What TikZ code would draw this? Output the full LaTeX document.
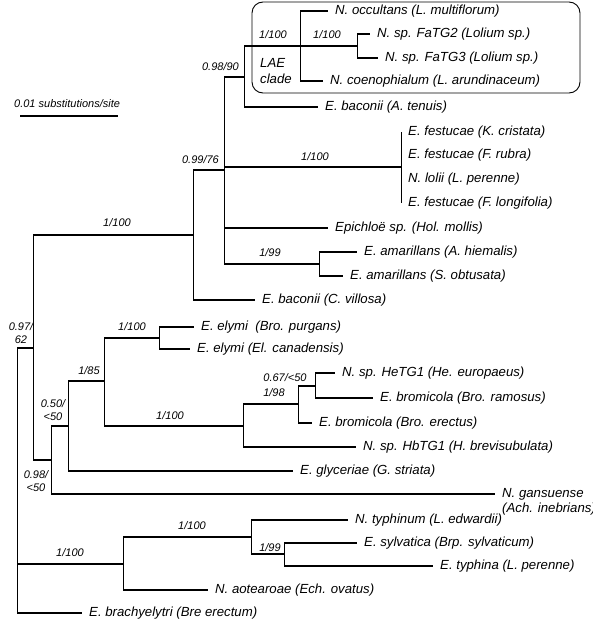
\documentclass[tikz,border=0pt]{standalone}
\usepackage{fontspec}
\setmainfont{Liberation Sans}
\usetikzlibrary{positioning}

\newcommand{\taxfont}{\fontsize{13.2}{15}\selectfont\itshape}
\newcommand{\bsfont}{\fontsize{11}{12.5}\selectfont\itshape}

\begin{document}
\begin{tikzpicture}[x=1pt, y=-1pt,
    hbr/.style={line width=1.8pt},
    vbr/.style={line width=0.9pt},
    taxon/.style={anchor=west, font=\taxfont, inner sep=1pt, xshift=6pt},
    supp/.style={font=\bsfont, inner sep=0pt, align=center}]
  \useasboundingbox (0,0) rectangle (593,621);

  % tips (end of terminal branches)
  \coordinate (tOcc) at (328,11);  \coordinate (tFa2) at (370,34);
  \coordinate (tFa3) at (378,58);  \coordinate (tCoe) at (323,81);
  \coordinate (tBacA) at (318,107);
  \coordinate (tKcr) at (401,132); \coordinate (tFru) at (401,155);
  \coordinate (tLol) at (401,179); \coordinate (tFlo) at (401,203);
  \coordinate (tHol) at (328,228);
  \coordinate (tAhi) at (357,252); \coordinate (tSob) at (343,276);
  \coordinate (tBacC) at (255,300);
  \coordinate (tBpu) at (194,327); \coordinate (tEca) at (190,349);
  \coordinate (tHe) at (335,373);  \coordinate (tBra) at (373,398);
  \coordinate (tBer) at (312,423); \coordinate (tHb) at (356,447);
  \coordinate (tGly) at (293,471); \coordinate (tGan) at (495,494);
  \coordinate (tTyn) at (348,520); \coordinate (tSyl) at (357,543);
  \coordinate (tTya) at (433,566); \coordinate (tAot) at (208,590);
  \coordinate (tBrc) at (82,613);

  % internal nodes
  \coordinate (nFaTG) at (357,46);  \coordinate (nLAE) at (300,46);
  \coordinate (n0890) at (244,77);  \coordinate (nFes) at (401,167);
  \coordinate (nAma) at (319,264);  \coordinate (n0976) at (224,170);
  \coordinate (nEpi) at (193,235);
  \coordinate (nEly) at (159,338);  \coordinate (nHe) at (315,386);
  \coordinate (n198) at (298,404);  \coordinate (nBro) at (243,426);
  \coordinate (n185) at (104,381);  \coordinate (n050) at (68,426);
  \coordinate (n098) at (51,460);   \coordinate (n097) at (33,348);
  \coordinate (n199) at (284,554);  \coordinate (nTyp) at (251,537);
  \coordinate (nTy100) at (123,564); \coordinate (nRoot) at (17,348);

  % branches
  \draw[vbr] (nFaTG |- tFa2) -- (nFaTG |- tFa3);
  \foreach \c in {tFa2,tFa3} \draw[hbr] (nFaTG |- \c) -- (\c);
  \draw[vbr] (nLAE |- tOcc) -- (nLAE |- tCoe);
  \foreach \c in {tOcc,nFaTG,tCoe} \draw[hbr] (nLAE |- \c) -- (\c);
  \draw[vbr] (n0890 |- nLAE) -- (n0890 |- tBacA);
  \foreach \c in {nLAE,tBacA} \draw[hbr] (n0890 |- \c) -- (\c);
  \draw[vbr] (nFes |- tKcr) -- (nFes |- tFlo);
  \draw[vbr] (nAma |- tAhi) -- (nAma |- tSob);
  \foreach \c in {tAhi,tSob} \draw[hbr] (nAma |- \c) -- (\c);
  \draw[vbr] (n0976 |- n0890) -- (n0976 |- nAma);
  \foreach \c in {n0890,nFes,tHol,nAma} \draw[hbr] (n0976 |- \c) -- (\c);
  \draw[vbr] (nEpi |- n0976) -- (nEpi |- tBacC);
  \foreach \c in {n0976,tBacC} \draw[hbr] (nEpi |- \c) -- (\c);

  \draw[vbr] (nEly |- tBpu) -- (nEly |- tEca);
  \foreach \c in {tBpu,tEca} \draw[hbr] (nEly |- \c) -- (\c);
  \draw[vbr] (nHe |- tHe) -- (nHe |- tBra);
  \foreach \c in {tHe,tBra} \draw[hbr] (nHe |- \c) -- (\c);
  \draw[vbr] (n198 |- nHe) -- (n198 |- tBer);
  \foreach \c in {nHe,tBer} \draw[hbr] (n198 |- \c) -- (\c);
  \draw[vbr] (nBro |- n198) -- (nBro |- tHb);
  \foreach \c in {n198,tHb} \draw[hbr] (nBro |- \c) -- (\c);
  \draw[vbr] (n185 |- nEly) -- (n185 |- nBro);
  \foreach \c in {nEly,nBro} \draw[hbr] (n185 |- \c) -- (\c);
  \draw[vbr] (n050 |- n185) -- (n050 |- tGly);
  \foreach \c in {n185,tGly} \draw[hbr] (n050 |- \c) -- (\c);
  \draw[vbr] (n098 |- n050) -- (n098 |- tGan);
  \foreach \c in {n050,tGan} \draw[hbr] (n098 |- \c) -- (\c);
  \draw[vbr] (n097 |- nEpi) -- (n097 |- n098);
  \foreach \c in {nEpi,n098} \draw[hbr] (n097 |- \c) -- (\c);

  \draw[vbr] (n199 |- tSyl) -- (n199 |- tTya);
  \foreach \c in {tSyl,tTya} \draw[hbr] (n199 |- \c) -- (\c);
  \draw[vbr] (nTyp |- tTyn) -- (nTyp |- n199);
  \foreach \c in {tTyn,n199} \draw[hbr] (nTyp |- \c) -- (\c);
  \draw[vbr] (nTy100 |- nTyp) -- (nTy100 |- tAot);
  \foreach \c in {nTyp,tAot} \draw[hbr] (nTy100 |- \c) -- (\c);
  \draw[vbr] (nRoot |- n097) -- (nRoot |- tBrc);
  \foreach \c in {n097,nTy100,tBrc} \draw[hbr] (nRoot |- \c) -- (\c);

  % taxa
  \node[taxon] (lOcc) at (tOcc) {N. occultans (L. multiflorum)};
  \node[taxon] (lFa2) at (tFa2) {N. sp. FaTG2 (Lolium sp.)};
  \node[taxon] (lFa3) at (tFa3) {N. sp. FaTG3 (Lolium sp.)};
  \node[taxon] (lCoe) at (tCoe) {N. coenophialum (L. arundinaceum)};
  \node[taxon] (lBacA) at (tBacA) {E. baconii (A. tenuis)};
  \node[taxon] (lKcr) at (tKcr) {E. festucae (K. cristata)};
  \node[taxon] (lFru) at (tFru) {E. festucae (F. rubra)};
  \node[taxon] (lLol) at (tLol) {N. lolii (L. perenne)};
  \node[taxon] (lFlo) at (tFlo) {E. festucae (F. longifolia)};
  \node[taxon] (lHol) at (tHol) {Epichloë sp. (Hol. mollis)};
  \node[taxon] (lAhi) at (tAhi) {E. amarillans (A. hiemalis)};
  \node[taxon] (lSob) at (tSob) {E. amarillans (S. obtusata)};
  \node[taxon] (lBacC) at (tBacC) {E. baconii (C. villosa)};
  \node[taxon] (lBpu) at (tBpu) {E. elymi\ \ (Bro. purgans)};
  \node[taxon] (lEca) at (tEca) {E. elymi (El. canadensis)};
  \node[taxon] (lHe) at (tHe) {N. sp. HeTG1 (He. europaeus)};
  \node[taxon] (lBra) at (tBra) {E. bromicola (Bro. ramosus)};
  \node[taxon] (lBer) at (tBer) {E. bromicola (Bro. erectus)};
  \node[taxon] (lHb) at (tHb) {N. sp. HbTG1 (H. brevisubulata)};
  \node[taxon] (lGly) at (tGly) {E. glyceriae (G. striata)};
  \node[taxon, align=left, yshift=-7.5pt] (lGan) at (tGan) {N. gansuense\\(Ach. inebrians)};
  \node[taxon] (lTyn) at (tTyn) {N. typhinum (L. edwardii)};
  \node[taxon] (lSyl) at (tSyl) {E. sylvatica (Brp. sylvaticum)};
  \node[taxon] (lTya) at (tTya) {E. typhina (L. perenne)};
  \node[taxon] (lAot) at (tAot) {N. aotearoae (Ech. ovatus)};
  \node[taxon] (lBrc) at (tBrc) {E. brachyelytri (Bre erectum)};

  % LAE clade box
  \node[font=\taxfont, align=left, anchor=west, inner sep=0pt] (lLAE) at (260,71) {LAE\\[1pt]clade};
  \draw[line width=0.9pt, rounded corners=11pt] (252,2) rectangle (580,93);

  % support values
  \node[supp] (sLAE) at (273,35) {1/100};
  \node[supp] (sFaTG) at (327,35) {1/100};
  \node[supp, anchor=east] (s0890) at (239,67) {0.98/90};
  \node[supp, anchor=east] (s0976) at (219,160) {0.99/76};
  \node[supp] (sFes) at (315,157) {1/100};
  \node[supp] (sEpi) at (117,223) {1/100};
  \node[supp] (sAma) at (270,253) {1/99};
  \node[supp] (s097) at (21,333) {0.97/\\62};
  \node[supp] (s050) at (53,410) {0.50/\\<50};
  \node[supp] (s098) at (36,481) {0.98/\\<50};
  \node[supp] (s185) at (89,371) {1/85};
  \node[supp] (sEly) at (132,327) {1/100};
  \node[supp] (sBro) at (170,416) {1/100};
  \node[supp] (s067) at (285,378) {0.67/<50};
  \node[supp] (s198) at (274,393) {1/98};
  \node[supp] (sTy100) at (70,553) {1/100};
  \node[supp] (sTyp) at (192,526) {1/100};
  \node[supp] (s199) at (270,548) {1/99};

  % scale bar
  \node[supp, anchor=west] (scaleTxt) at (14,104) {0.01 substitutions/site};
  \coordinate (sbL) at (20,116); \coordinate (sbR) at (118,116);
  \draw[line width=2.4pt] (sbL) -- (sbR);
\end{tikzpicture}
\end{document}
